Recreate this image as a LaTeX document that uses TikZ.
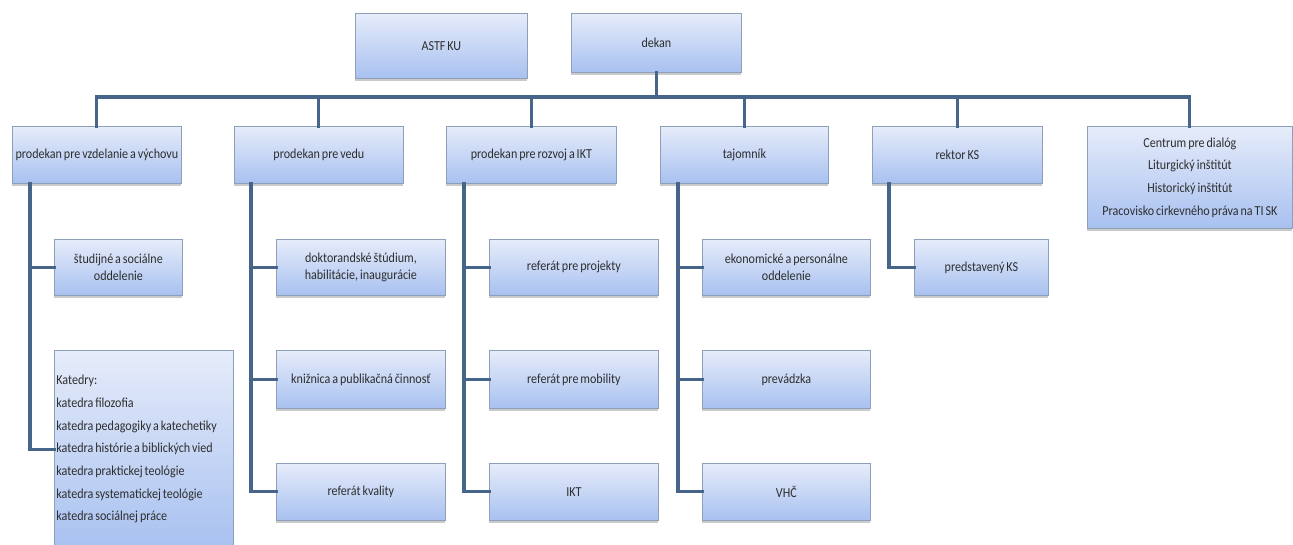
\documentclass[tikz,border=0pt]{standalone}
\usepackage{fontspec}
\setmainfont{Carlito}[FakeStretch=0.88, WordSpace=0.7]
\usetikzlibrary{shadows,calc}
\definecolor{boxtop}{HTML}{E6ECFA}
\definecolor{boxbot}{HTML}{A8C1F0}
\definecolor{boxline}{HTML}{8E9FBA}
\definecolor{conncol}{HTML}{47658A}
\definecolor{txt}{HTML}{2E2E2E}
\begin{document}
\begin{tikzpicture}[x=0.75pt,y=-0.75pt,
  orgbox/.style={draw=boxline, line width=0.6pt, top color=boxtop, bottom color=boxbot,
    drop shadow={shadow xshift=0pt, shadow yshift=-1.6pt, opacity=0.35, fill=black!60},
    anchor=north west, inner sep=1pt, align=center, text=txt,
    font=\fontsize{10.3}{12.8}\selectfont},
  conn/.style={draw=conncol, line width=2.3pt, line cap=rect},
]
\useasboundingbox (0,0) rectangle (1293,544);
% top
\node[orgbox, minimum width=172*0.75pt, minimum height=65*0.75pt] (astf) at (355,13) {ASTF KU};
\node[orgbox, minimum width=170*0.75pt, minimum height=59*0.75pt] (dekan) at (571,13) {dekan};
% level 1
\node[orgbox, minimum width=169*0.75pt, minimum height=57*0.75pt] (p1) at (12,126) {prodekan pre vzdelanie a výchovu};
\node[orgbox, minimum width=169*0.75pt, minimum height=57*0.75pt] (p2) at (234,126) {prodekan pre vedu};
\node[orgbox, minimum width=170*0.75pt, minimum height=57*0.75pt] (p3) at (446,126) {prodekan pre rozvoj a IKT};
\node[orgbox, minimum width=168*0.75pt, minimum height=57*0.75pt] (p4) at (660,126) {tajomník};
\node[orgbox, minimum width=170*0.75pt, minimum height=57*0.75pt] (p5) at (872,126) {rektor KS};
\node[orgbox, minimum width=205*0.75pt, minimum height=102*0.75pt, font=\fontsize{10.3}{17}\selectfont] (p6) at (1087,126)
  {Centrum pre dialóg\\Liturgický inštitút\\Historický inštitút\\Pracovisko cirkevného práva na TI SK};
% children of p1
\node[orgbox, minimum width=128*0.75pt, minimum height=56*0.75pt] (c11) at (54,239) {študijné a sociálne\\oddelenie};
\node[orgbox, minimum width=179*0.75pt, minimum height=198*0.75pt, align=flush left, text width=175*0.75pt,
  font=\fontsize{10.3}{17}\selectfont] (c12) at (54,350)
  {Katedry:\\katedra filozofia\\katedra pedagogiky a katechetiky\\katedra histórie a biblických vied\\katedra praktickej teológie\\katedra systematickej teológie\\katedra sociálnej práce};
% children of p2
\node[orgbox, minimum width=169*0.75pt, minimum height=56*0.75pt] (c21) at (276,239) {doktorandské štúdium,\\habilitácie, inaugurácie};
\node[orgbox, minimum width=169*0.75pt, minimum height=58*0.75pt] (c22) at (276,350) {knižnica a publikačná činnosť};
\node[orgbox, minimum width=169*0.75pt, minimum height=57*0.75pt] (c23) at (276,463) {referát kvality};
% children of p3
\node[orgbox, minimum width=169*0.75pt, minimum height=56*0.75pt] (c31) at (489,239) {referát pre projekty};
\node[orgbox, minimum width=169*0.75pt, minimum height=58*0.75pt] (c32) at (489,350) {referát pre mobility};
\node[orgbox, minimum width=169*0.75pt, minimum height=57*0.75pt] (c33) at (489,463) {IKT};
% children of p4
\node[orgbox, minimum width=168*0.75pt, minimum height=56*0.75pt] (c41) at (702,239) {ekonomické a personálne\\oddelenie};
\node[orgbox, minimum width=168*0.75pt, minimum height=58*0.75pt] (c42) at (702,350) {prevádzka};
\node[orgbox, minimum width=168*0.75pt, minimum height=57*0.75pt] (c43) at (702,463) {VHČ};
% child of p5
\node[orgbox, minimum width=134*0.75pt, minimum height=56*0.75pt] (c51) at (914,239) {predstavený KS};
% bus
\coordinate (bus) at (0,97);
\foreach \n in {p1,p2,p3,p4,p5,p6}{
  \draw[conn] (dekan.south) -- (dekan.south |- bus) -| (\n.north);
}
% drops
\coordinate (d1) at ($(p1.south west)+(18,0)$);
\coordinate (d2) at ($(p2.south west)+(17,0)$);
\coordinate (d3) at ($(p3.south west)+(18,0)$);
\coordinate (d4) at ($(p4.south west)+(18,0)$);
\coordinate (d5) at ($(p5.south west)+(17,0)$);
\draw[conn] (d1) |- (c11.west);
\draw[conn] (d1) |- (c12.west);
\draw[conn] (d2) |- (c21.west);
\draw[conn] (d2) |- (c22.west);
\draw[conn] (d2) |- (c23.west);
\draw[conn] (d3) |- (c31.west);
\draw[conn] (d3) |- (c32.west);
\draw[conn] (d3) |- (c33.west);
\draw[conn] (d4) |- (c41.west);
\draw[conn] (d4) |- (c42.west);
\draw[conn] (d4) |- (c43.west);
\draw[conn] (d5) |- (c51.west);
\end{tikzpicture}
\end{document}
